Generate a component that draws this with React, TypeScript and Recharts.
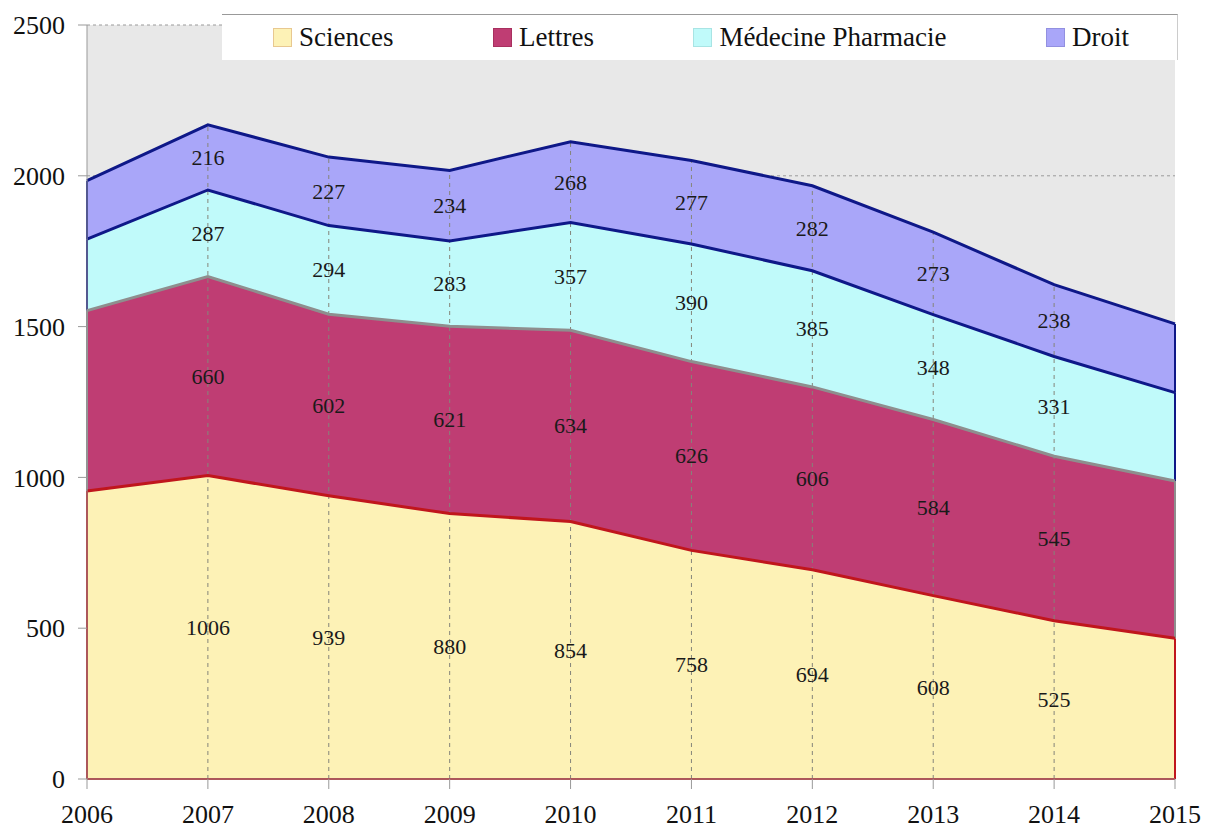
import React from 'react';
import {
  ComposedChart, Area, Line, XAxis, YAxis, CartesianGrid, ReferenceLine, LabelList, Legend,
} from 'recharts';

const FONT = '"Liberation Serif", "Times New Roman", serif';

const years = [2006, 2007, 2008, 2009, 2010, 2011, 2012, 2013, 2014, 2015];
const sciences = [955, 1006, 939, 880, 854, 758, 694, 608, 525, 467];
const lettres = [598, 660, 602, 621, 634, 626, 606, 584, 545, 521];
const medecine = [237, 287, 294, 283, 357, 390, 385, 348, 331, 293];
const droit = [194, 216, 227, 234, 268, 277, 282, 273, 238, 228];
const yTicks = [0, 500, 1000, 1500, 2000, 2500];

const series = [
  { key: 'sciences', name: 'Sciences', values: sciences, fill: '#fdf2b6', stroke: '#c0161c', box: '#e8c890' },
  { key: 'lettres', name: 'Lettres', values: lettres, fill: '#bf3d73', stroke: '#8e8e8e', box: '#a8305f' },
  { key: 'medecine', name: 'Médecine Pharmacie', values: medecine, fill: '#c0fafa', stroke: '#0e1888', box: '#a8e4e4' },
  { key: 'droit', name: 'Droit', values: droit, fill: '#a9a6f9', stroke: '#0e1888', box: '#9290e0' },
];

// stacked table: raw value, top of band, middle of band (for the labels)
const rows = years.map((year, i) => {
  const row: Record<string, number> = { year };
  let base = 0;
  series.forEach((s) => {
    const v = s.values[i];
    row[s.key] = v;
    row[`${s.key}Mid`] = base + v / 2;
    base += v;
    row[`${s.key}Top`] = base;
    row[`${s.key}Base`] = base - v;
  });
  return row;
});

const first = rows[0];
const last = rows[rows.length - 1];

const midLabel = (props: any) => {
  const { x, y, value, index } = props;
  if (index === 0 || index === years.length - 1) return null;
  return (
    <text x={x} y={y} textAnchor="middle" dominantBaseline="central"
      fontSize={22} fontFamily={FONT} fill="#1a1a1a">
      {value}
    </text>
  );
};

const renderLegend = () => (
  <div style={{
    boxSizing: 'border-box', width: 956, height: 46, background: '#fff',
    borderTop: '1px solid #999', borderRight: '1px solid #ccc',
    display: 'flex', alignItems: 'center', justifyContent: 'space-between',
    paddingLeft: 51, paddingRight: 48,
    fontFamily: FONT, fontSize: 27, color: '#111',
  }}>
    {series.map((s) => (
      <div key={s.key} style={{ display: 'flex', alignItems: 'center' }}>
        <span style={{
          display: 'inline-block', boxSizing: 'border-box', width: 19, height: 19,
          background: s.fill, border: `1px solid ${s.box}`, marginRight: 7,
        }} />
        <span>{s.name}</span>
      </div>
    ))}
  </div>
);

export default function App() {
  return (
    <div style={{ position: 'absolute', left: 0, top: 0, width: 1210, height: 831, background: '#fff' }}>
      <ComposedChart width={1210} height={831} data={rows}
        margin={{ top: 25, right: 35, left: 0, bottom: 0 }}>
        <CartesianGrid fill="#e8e8e8" vertical={false} stroke="#9a9a9a" strokeDasharray="3 3" />
        <XAxis dataKey="year" type="number" domain={[2006, 2015]} ticks={years}
          height={52} tickSize={10} tickMargin={16}
          axisLine={{ stroke: '#999' }} tickLine={{ stroke: '#999' }}
          tick={{ fill: '#111', fontSize: 26, fontFamily: FONT }} />
        <YAxis domain={[0, 2500]} ticks={yTicks} width={87} tickSize={9} tickMargin={13}
          axisLine={{ stroke: '#999' }} tickLine={{ stroke: '#999' }}
          tick={{ fill: '#111', fontSize: 26, fontFamily: FONT }} />
        <Legend layout="vertical" align="center" verticalAlign="middle" content={renderLegend}
          wrapperStyle={{ top: 14, left: 222, width: 956, height: 46 }} />

        {series.map((s) => (
          <Area key={s.key} dataKey={s.key} stackId="1" type="linear"
            fill={s.fill} fillOpacity={1} stroke="none" isAnimationActive={false} />
        ))}

        {years.slice(1).map((yr, i) => (
          <ReferenceLine key={`v${yr}`} stroke="#85857a" strokeDasharray="4 4"
            segment={[{ x: yr, y: 0 }, { x: yr, y: rows[i + 1].droitTop }]} />
        ))}

        {series.map((s) => (
          <ReferenceLine key={`l${s.key}`} stroke={s.stroke} strokeWidth={2}
            segment={[{ x: first.year, y: first[`${s.key}Base`] }, { x: first.year, y: first[`${s.key}Top`] }]} />
        ))}
        {series.map((s) => (
          <ReferenceLine key={`r${s.key}`} stroke={s.stroke} strokeWidth={2}
            segment={[{ x: last.year, y: last[`${s.key}Base`] }, { x: last.year, y: last[`${s.key}Top`] }]} />
        ))}
        <ReferenceLine stroke={series[0].stroke} strokeWidth={2}
          segment={[{ x: first.year, y: 0 }, { x: last.year, y: 0 }]} />

        {series.map((s) => (
          <Line key={`t${s.key}`} dataKey={`${s.key}Top`} type="linear" stroke={s.stroke}
            strokeWidth={3} dot={false} activeDot={false} legendType="none" isAnimationActive={false} />
        ))}

        {series.map((s) => (
          <Line key={`m${s.key}`} dataKey={`${s.key}Mid`} type="linear" stroke="none"
            dot={false} activeDot={false} legendType="none" isAnimationActive={false}>
            <LabelList dataKey={s.key} content={midLabel} />
          </Line>
        ))}
      </ComposedChart>
    </div>
  );
}
